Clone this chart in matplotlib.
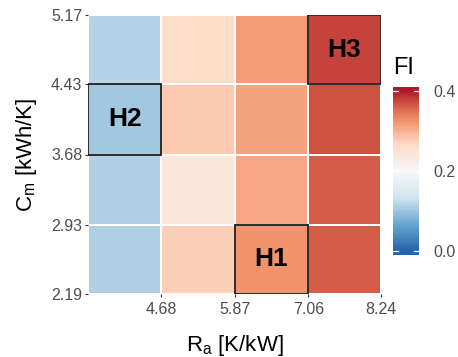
import numpy as np
import matplotlib
matplotlib.use("Agg")
import matplotlib.pyplot as plt
from matplotlib.colors import ListedColormap, Normalize
from matplotlib.patches import Rectangle

plt.rcParams['font.family'] = ['Liberation Sans', 'DejaVu Sans']
plt.rcParams['mathtext.fontset'] = 'custom'
plt.rcParams['mathtext.rm'] = 'Liberation Sans'
plt.rcParams['mathtext.it'] = 'Liberation Sans:italic'

# ---- data ----
ra_edges = [3.49, 4.68, 5.87, 7.06, 8.24]
cm_edges = [2.19, 2.93, 3.68, 4.43, 5.17]
x_tick_labels = ["4.68", "5.87", "7.06", "8.24"]
y_tick_labels = ["2.19", "2.93", "3.68", "4.43", "5.17"]
# FI values, rows from bottom (low Cm) to top (high Cm), columns low Ra -> high Ra
fi_values = [
    [0.110, 0.275, 0.326, 0.364],
    [0.110, 0.240, 0.310, 0.364],
    [0.102, 0.280, 0.314, 0.370],
    [0.115, 0.262, 0.318, 0.379],
]
highlight_names = ["H1", "H2", "H3"]
highlight_col = [2, 0, 3]
highlight_row = [0, 2, 3]
cbar_ticks = [0.0, 0.2, 0.4]
cbar_tick_labels = ["0.0", "0.2", "0.4"]

# ---- colormap: RdBu (7 classes) reversed, interpolated in Lab ----
pal = ["#2166AC", "#67A9CF", "#D1E5F0", "#F7F7F7", "#FDDBC7", "#EF8A62", "#B2182B"]

def hex2rgb(h):
    h = h.lstrip('#')
    return np.array([int(h[i:i+2], 16) / 255 for i in (0, 2, 4)])

M = np.array([[0.4124564, 0.3575761, 0.1804375],
              [0.2126729, 0.7151522, 0.0721750],
              [0.0193339, 0.1191920, 0.9503041]])
Minv = np.linalg.inv(M)
wp = M @ np.ones(3)

def rgb2lab(c):
    lin = np.where(c <= 0.04045, c / 12.92, ((c + 0.055) / 1.055) ** 2.4)
    xyz = M @ lin / wp
    f = np.where(xyz > (6/29)**3, np.cbrt(xyz), xyz / (3*(6/29)**2) + 4/29)
    return np.array([116*f[1] - 16, 500*(f[0]-f[1]), 200*(f[1]-f[2])])

def lab2rgb(lab):
    L, a, b = lab
    fy = (L + 16) / 116
    fx = fy + a / 500
    fz = fy - b / 200
    f = np.array([fx, fy, fz])
    xyz = np.where(f > 6/29, f**3, 3*(6/29)**2*(f - 4/29)) * wp
    lin = Minv @ xyz
    lin = np.clip(lin, 0, 1)
    c = np.where(lin <= 0.0031308, 12.92*lin, 1.055*lin**(1/2.4) - 0.055)
    return np.clip(c, 0, 1)

labs = np.array([rgb2lab(hex2rgb(h)) for h in pal])
pos = np.linspace(0, 1, len(pal))
ts = np.linspace(0, 1, 256)
cols = []
for t in ts:
    lab = np.array([np.interp(t, pos, labs[:, k]) for k in range(3)])
    cols.append(lab2rgb(lab))
cmap = ListedColormap(np.array(cols))
norm = Normalize(vmin=0.0, vmax=0.4, clip=True)

# ---- figure ----
W, H = 458, 357
fig = plt.figure(figsize=(W/100, H/100), dpi=100)
ax = fig.add_axes([88/W, 1 - 294/H, (381-88)/W, (294-15)/H])

Z = np.array(fi_values)
ax.pcolormesh(ra_edges, cm_edges, Z, cmap=cmap, norm=norm,
              edgecolors='white', linewidth=1.3)

for name, c, r in zip(highlight_names, highlight_col, highlight_row):
    x0, x1 = ra_edges[c], ra_edges[c+1]
    y0, y1 = cm_edges[r], cm_edges[r+1]
    ax.add_patch(Rectangle((x0, y0), x1 - x0, y1 - y0, fill=False,
                           edgecolor='#1a1a1a', linewidth=1.3, zorder=3))
    ax.text((x0 + x1)/2, (y0 + y1)/2, name, ha='center', va='center',
            fontsize=19, fontweight='bold', color='black', zorder=4)

ax.set_xlim(ra_edges[0], ra_edges[-1])
ax.set_ylim(cm_edges[0], cm_edges[-1])
for s in ax.spines.values():
    s.set_visible(False)
ax.set_xticks(ra_edges[1:])
ax.set_xticklabels(x_tick_labels)
ax.set_yticks(cm_edges)
ax.set_yticklabels(y_tick_labels)
ax.tick_params(axis='both', length=2, width=0.8, color='#333333',
               labelcolor='#4d4d4d', labelsize=11.5)
ax.tick_params(axis='x', pad=4)
ax.tick_params(axis='y', pad=2)
ax.set_xlabel(r"R$_\mathrm{a}$ [K/kW]", fontsize=16, color='black', labelpad=11)
ax.set_ylabel(r"C$_\mathrm{m}$ [kWh/K]", fontsize=16, color='black', labelpad=9)

# ---- colorbar ----
cax = fig.add_axes([393/W, 1 - 255/H, (419-393)/W, (255-87)/H])
lo, hi = -0.0106, 0.4106
grad = np.linspace(lo, hi, 300).reshape(-1, 1)
cax.pcolormesh([0, 1], np.linspace(lo, hi, 301), grad, cmap=cmap, norm=norm)
cax.set_xlim(0, 1)
cax.set_ylim(lo, hi)
for s in cax.spines.values():
    s.set_visible(False)
cax.set_xticks([])
cax.yaxis.tick_right()
cax.set_yticks(cbar_ticks)
cax.set_yticklabels(cbar_tick_labels)
cax.tick_params(axis='y', length=0, labelsize=11.5, labelcolor='#4d4d4d', pad=10)
for t in cbar_ticks:
    cax.plot([0, 0.2], [t, t], color='white', lw=0.9)
    cax.plot([0.8, 1], [t, t], color='white', lw=0.9)
fig.text(393/W, 1 - 74/H, "FI", fontsize=17, color='black', ha='left', va='baseline')

fig.savefig("out.png", dpi=100)
